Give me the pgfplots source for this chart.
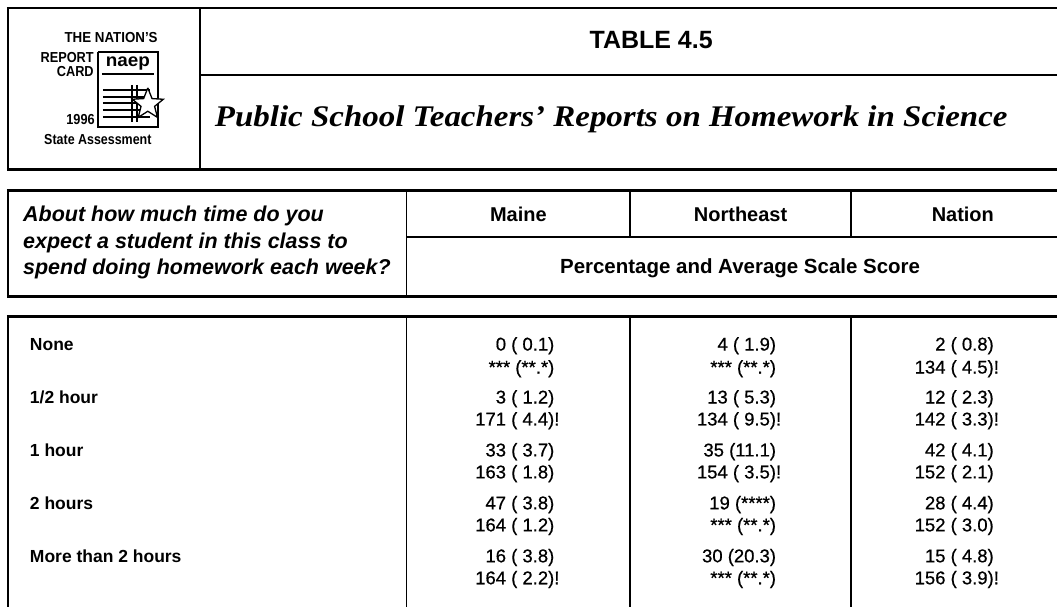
\documentclass[border=0pt]{standalone}
\usepackage{graphicx}
\usepackage{pgfplots}
\pgfplotsset{compat=1.18}
\usepackage{pgfplotstable}
\usepackage{fontspec}
\setmainfont{Liberation Sans}
\newfontfamily\titlefont{Liberation Serif}
\newfontfamily\datafam{Liberation Sans}[FakeBold=0.6]
\newcommand\datafont{\datafam\fontsize{18.5}{22}\selectfont}
\newcommand\labfont{\bfseries\fontsize{17.5}{21}\selectfont}

% Row labels
\pgfplotstableread[col sep=comma]{
x,y,lab
30,351,None
30,404,1/2 hour
30,457,1 hour
30,510,2 hours
30,563,More than 2 hours
}\rowtab

% Values: percentage (standard error) and average scale score (standard error)
\pgfplotstableread[col sep=comma]{
x,y,lab
555,351,0 ( 0.1)
555,374,*** (**.*)
555,404,3 ( 1.2)
555,426,171 ( 4.4)
555,457,33 ( 3.7)
555,479,163 ( 1.8)
555,510,47 ( 3.8)
555,532,164 ( 1.2)
555,563,16 ( 3.8)
555,585,164 ( 2.2)
777,351,4 ( 1.9)
777,374,*** (**.*)
777,404,13 ( 5.3)
777,426,134 ( 9.5)
777,457,35 (11.1)
777,479,154 ( 3.5)
777,510,19 (****)
777,532,*** (**.*)
777,563,30 (20.3)
777,585,*** (**.*)
995,351,2 ( 0.8)
995,374,134 ( 4.5)
995,404,12 ( 2.3)
995,426,142 ( 3.3)
995,457,42 ( 4.1)
995,479,152 ( 2.1)
995,510,28 ( 4.4)
995,532,152 ( 3.0)
995,563,15 ( 4.8)
995,585,156 ( 3.9)
}\valtab

% Flags (!) after values
\pgfplotstableread[col sep=comma]{
x,y,lab
555,426,!
555,585,!
777,426,!
777,479,!
995,374,!
995,426,!
995,585,!
}\flagtab

\begin{document}
\begin{tikzpicture}
\begin{axis}[
  scale only axis, width=1058pt, height=608pt,
  xmin=0, xmax=1058, ymin=0, ymax=608, y dir=reverse,
  hide axis, clip=false,
  tl/.style={black, line width=2.6pt, mark=none, forget plot},
  il/.style={black, line width=1.8pt, mark=none, forget plot},
  ll/.style={black, line width=1.5pt, mark=none, forget plot},
]
\addplot[draw=none, fill=white, forget plot] coordinates {(0,0) (1058,0) (1058,608) (0,608) (0,0)};

% header box
\addplot[tl] coordinates {(7,8) (1058,8)};
\addplot[tl] coordinates {(8,8) (8,170)};
\addplot[tl] coordinates {(7,170) (1058,170)};
\addplot[il] coordinates {(200,8) (200,170)};
\addplot[il] coordinates {(200,75) (1058,75)};

% table header
\addplot[tl] coordinates {(7,191) (1058,191)};
\addplot[tl] coordinates {(8,191) (8,297)};
\addplot[tl] coordinates {(7,297) (1058,297)};
\addplot[il] coordinates {(407,191) (407,297)};
\addplot[il] coordinates {(631,191) (631,237)};
\addplot[il] coordinates {(852,191) (852,237)};
\addplot[il] coordinates {(407,237) (1058,237)};

% data box
\addplot[tl] coordinates {(7,317) (1058,317)};
\addplot[tl] coordinates {(8,317) (8,608)};
\addplot[il] coordinates {(407,317) (407,608)};
\addplot[il] coordinates {(631,317) (631,608)};
\addplot[il] coordinates {(852,317) (852,608)};

% logo card
\addplot[ll] coordinates {(98,52) (158,52) (158,127) (98,127) (98,52)};
\addplot[line width=2.2pt, mark=none, forget plot] coordinates {(102,74) (154,74)};
\addplot[ll] coordinates {(103,90) (150,90)};
\addplot[ll] coordinates {(103,97) (150,97)};
\addplot[ll] coordinates {(103,103) (150,103)};
\addplot[ll] coordinates {(103,110) (150,110)};
\addplot[ll] coordinates {(103,117) (150,117)};
\addplot[ll] coordinates {(132,85) (132,122)};
\addplot[ll] coordinates {(137,85) (137,122)};
\addplot[black, line width=1.3pt, fill=white, mark=none, forget plot] coordinates {(148,88) (152.2,98.7) (163.5,99.4) (154.8,106.5) (157.6,117.5) (148,111.4) (138.4,117.5) (141.2,106.5) (132.5,99.4) (143.8,98.7) (148,88)};

% row labels
\addplot[draw=none, mark=none, point meta=explicit symbolic,
  nodes near coords={\makebox[0pt][l]{\pgfplotspointmeta}},
  nodes near coords align={anchor=base},
  every node near coord/.append style={inner sep=0pt, font=\labfont}]
  table[x=x, y=y, meta=lab] {\rowtab};

% values
\addplot[draw=none, mark=none, point meta=explicit symbolic,
  nodes near coords={\makebox[0pt][r]{\pgfplotspointmeta}},
  nodes near coords align={anchor=base},
  every node near coord/.append style={inner sep=0pt, font=\datafont}]
  table[x=x, y=y, meta=lab] {\valtab};

% flags
\addplot[draw=none, mark=none, point meta=explicit symbolic,
  nodes near coords={\makebox[0pt][l]{\pgfplotspointmeta}},
  nodes near coords align={anchor=base},
  every node near coord/.append style={inner sep=0pt, font=\datafont}]
  table[x=x, y=y, meta=lab] {\flagtab};

% texts
\node[anchor=base east, inner sep=0pt, font=\bfseries\fontsize{14.5}{16}\selectfont] at (axis cs:158,43) {\scalebox{0.92}[1]{THE NATION'S}};
\node[anchor=base east, inner sep=0pt, font=\bfseries\fontsize{14.5}{16}\selectfont] at (axis cs:94,63) {\scalebox{0.88}[1]{REPORT}};
\node[anchor=base east, inner sep=0pt, font=\bfseries\fontsize{14.5}{16}\selectfont] at (axis cs:94,77) {\scalebox{0.88}[1]{CARD}};
\node[anchor=center, inner sep=0pt, font=\bfseries\fontsize{18}{18}\selectfont] at (axis cs:128,64) {\scalebox{1.05}[1]{naep}};
\node[anchor=base east, inner sep=0pt, font=\bfseries\fontsize{14.5}{16}\selectfont] at (axis cs:95,125) {\scalebox{0.88}[1]{1996}};
\node[anchor=base, inner sep=0pt, font=\bfseries\fontsize{14.5}{16}\selectfont] at (axis cs:98,145) {\scalebox{0.86}[1]{State Assessment}};

\node[anchor=base, inner sep=0pt, font=\bfseries\fontsize{25}{30}\selectfont] at (axis cs:652,49) {TABLE 4.5};
\node[anchor=base west, inner sep=0pt] at (axis cs:215,127) {\titlefont\bfseries\itshape\fontsize{30}{36}\selectfont\scalebox{1.1}[1]{Public School Teachers’ Reports on Homework in Science}};

\node[anchor=base west, inner sep=0pt, font=\bfseries\itshape\fontsize{21.5}{25}\selectfont] at (axis cs:23,222) {About how much time do you};
\node[anchor=base west, inner sep=0pt, font=\bfseries\itshape\fontsize{21.5}{25}\selectfont] at (axis cs:23,249) {expect a student in this class to};
\node[anchor=base west, inner sep=0pt, font=\bfseries\itshape\fontsize{21.5}{25}\selectfont] at (axis cs:23,275) {spend doing homework each week?};

\node[anchor=base, inner sep=0pt, font=\bfseries\fontsize{20}{24}\selectfont] at (axis cs:519,222) {Maine};
\node[anchor=base, inner sep=0pt, font=\bfseries\fontsize{20}{24}\selectfont] at (axis cs:741.5,222) {Northeast};
\node[anchor=base, inner sep=0pt, font=\bfseries\fontsize{20}{24}\selectfont] at (axis cs:964,222) {Nation};
\node[anchor=base, inner sep=0pt, font=\bfseries\fontsize{20.5}{24}\selectfont] at (axis cs:741,274) {Percentage and Average Scale Score};
\end{axis}
\end{tikzpicture}
\end{document}
